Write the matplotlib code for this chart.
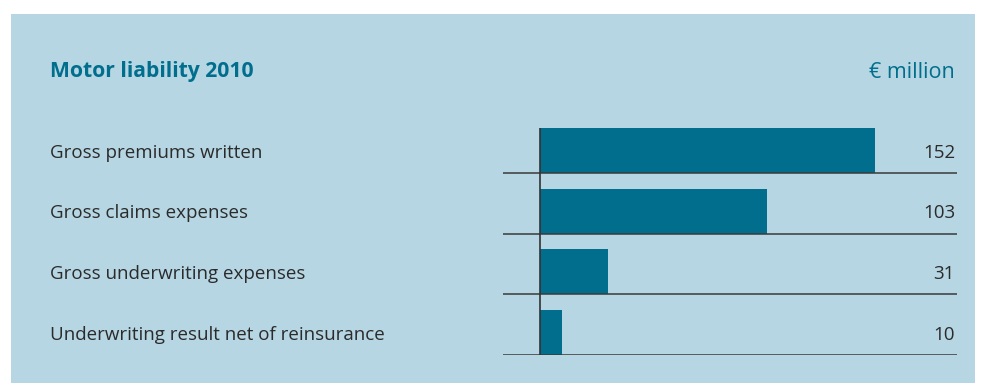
import matplotlib
matplotlib.use("Agg")
import matplotlib.pyplot as plt
from matplotlib.patches import Rectangle

categories = [
    "Gross premiums written",
    "Gross claims expenses",
    "Gross underwriting expenses",
    "Underwriting result net of reinsurance",
]
values = [152, 103, 31, 10]
value_labels = ["152", "103", "31", "10"]
title = "Motor liability 2010"
unit = "€ million"

W, H = 981, 383
BG = "#b5d6e2"
TEAL = "#006e8c"
TEXT = "#2b2b2b"
FONT = "Open Sans"

fig = plt.figure(figsize=(W / 100, H / 100), dpi=100)
fig.patch.set_facecolor("white")


def fx(px):
    return px / W


def fy(py):
    return 1 - py / H


# light blue panel behind everything
fig.patches.append(Rectangle((fx(11), 0), fx(975) - fx(11), fy(14),
                             transform=fig.transFigure, facecolor=BG,
                             edgecolor="none", zorder=-10))

# axes region in pixels
ax_left, ax_right = 503, 957
zero_px = 540
row_pitch = 60.5
first_sep = 173
ax_bottom = first_sep + row_pitch * 3
ax_top = first_sep - row_pitch
px_per_unit = 335 / 152

ax = fig.add_axes([fx(ax_left), fy(ax_bottom), fx(ax_right) - fx(ax_left),
                   fy(ax_top) - fy(ax_bottom)])
ax.set_zorder(5)
ax.set_facecolor("none")
ax.patch.set_alpha(0)
ax.set_xlim((ax_left - zero_px) / px_per_unit, (ax_right - zero_px) / px_per_unit)
n = len(categories)
ax.set_ylim(0, n)
for s in ax.spines.values():
    s.set_visible(False)
ax.set_xticks([])
ax.set_yticks([])

bar_h = 45 / row_pitch
for i, v in enumerate(values):
    base = n - 1 - i
    ax.barh(base, v, height=bar_h, align="edge", color=TEAL, zorder=2)
    ax.axhline(base, color="#3a3a3a", lw=1.1, zorder=3)
ax.plot([0, 0], [0, n - 1 + bar_h], color="#333333", lw=1.2, zorder=4,
        solid_capstyle="butt")

# row labels and values
for i, (c, lab) in enumerate(zip(categories, value_labels)):
    yc = first_sep - 20 + row_pitch * i
    fig.text(fx(50), fy(yc), c, ha="left", va="center", fontsize=13.5,
             color=TEXT, family=FONT)
    fig.text(fx(955), fy(yc), lab, ha="right", va="center", fontsize=13.5,
             color=TEXT, family=FONT)

fig.text(fx(50), fy(72), title, ha="left", va="center", fontsize=15.2,
         fontweight="bold", color=TEAL, family=FONT)
fig.text(fx(955), fy(72), unit, ha="right", va="center", fontsize=15.5,
         color=TEAL, family=[FONT, "DejaVu Sans"])

fig.savefig("out.png", dpi=100, facecolor="white")
